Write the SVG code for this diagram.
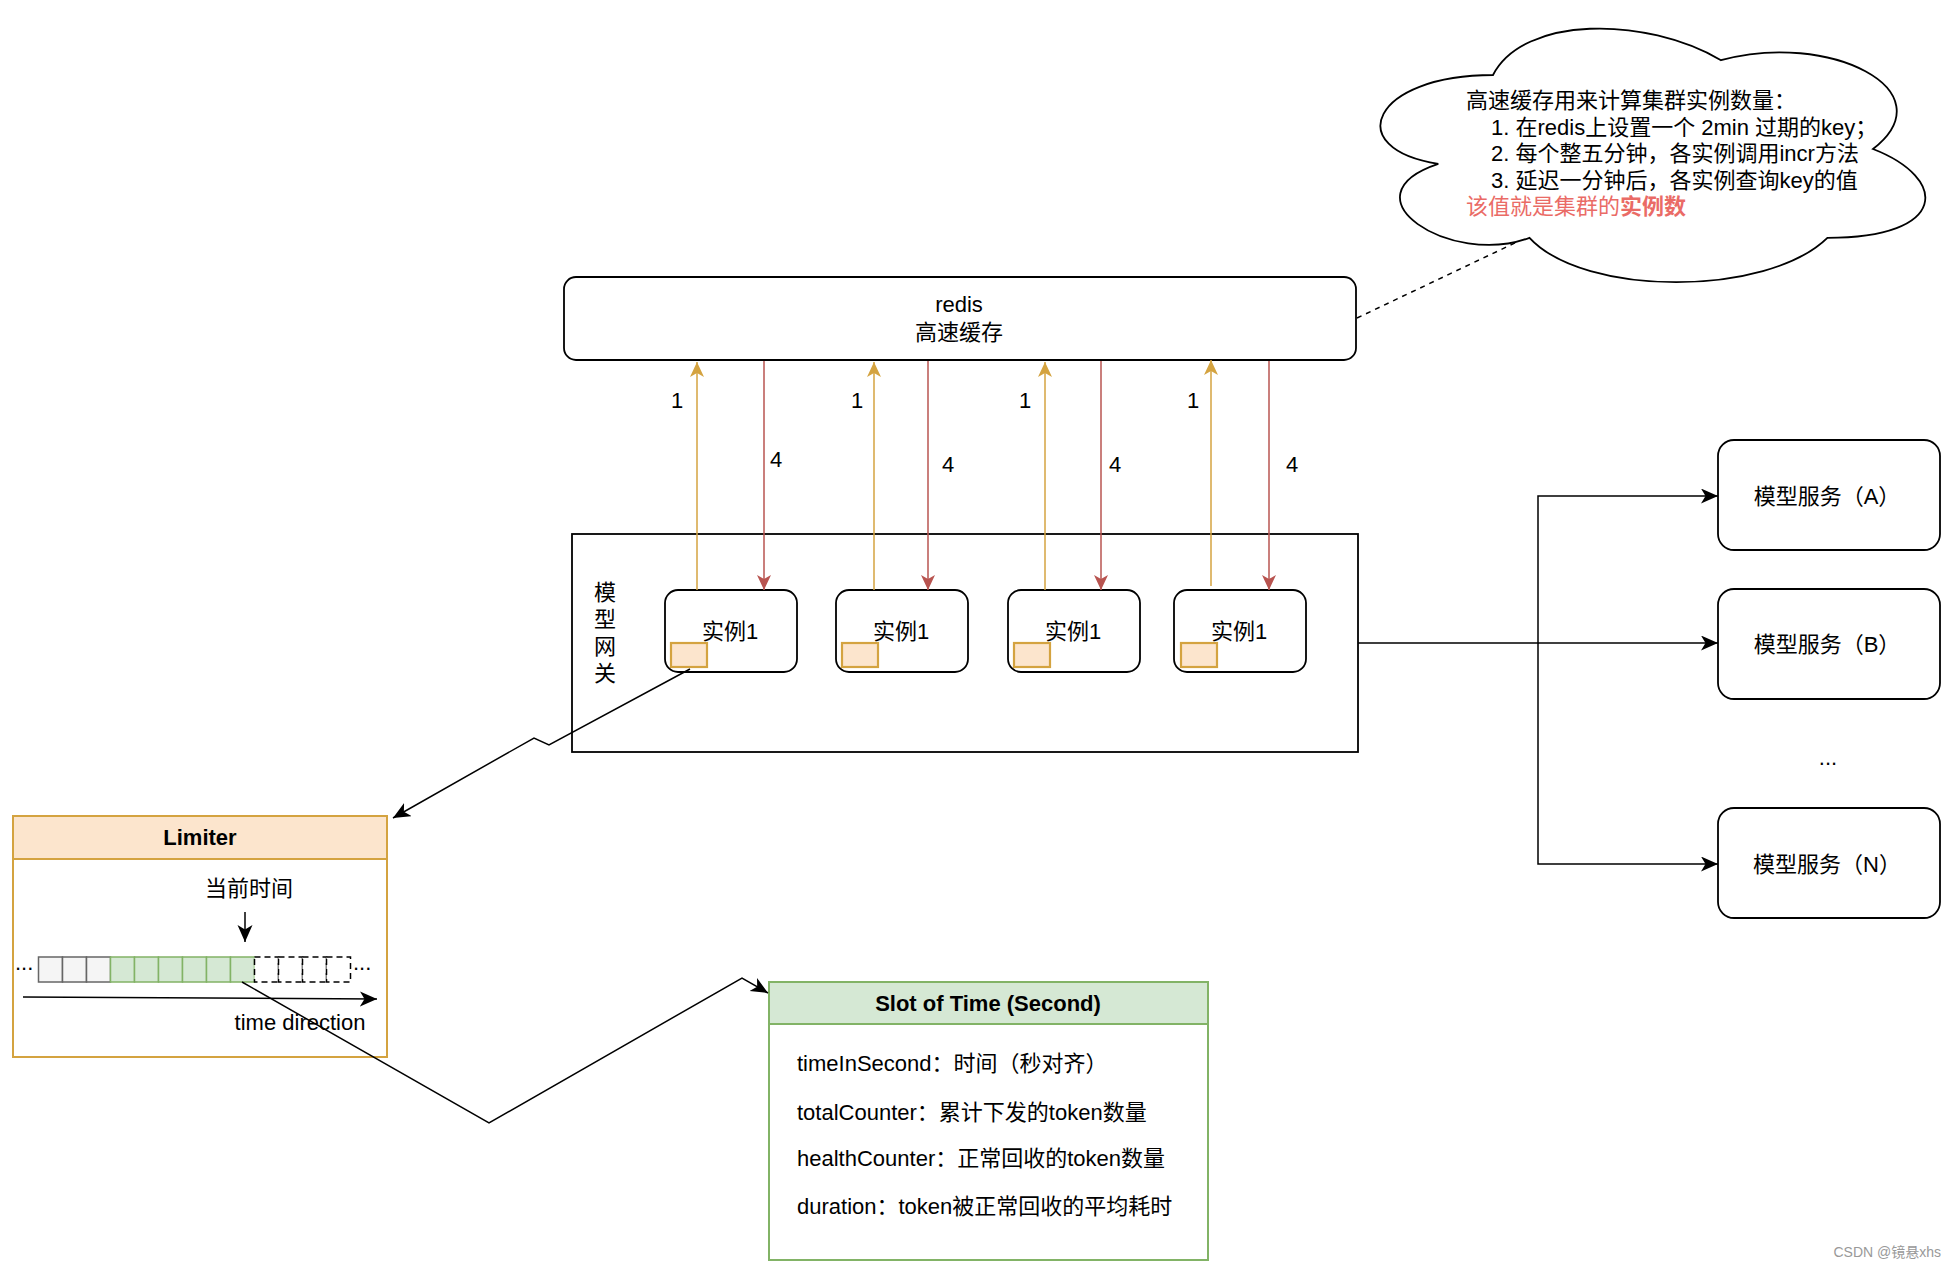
<svg xmlns="http://www.w3.org/2000/svg" width="1956" height="1270" viewBox="0 0 1956 1270">
<style>
text{font-family:"Liberation Sans","Noto Sans CJK SC",Arial,sans-serif;font-size:22px;fill:#000}
.c{text-anchor:middle}
.b{font-weight:bold}
.box{fill:#fff;stroke:#000;stroke-width:1.8}
.ln{fill:none;stroke:#000;stroke-width:1.5}
.or{fill:none;stroke:#d4a340;stroke-width:1.5}
.rd{fill:none;stroke:#b85450;stroke-width:1.5}
.sq{fill:#fce5cd;stroke:#d4a340;stroke-width:2.2}
.grey{fill:#f5f5f5;stroke:#666;stroke-width:1.5}
.green{fill:#d5e8d4;stroke:#82b366;stroke-width:1.5}
.dash{fill:#fff;stroke:#000;stroke-width:1.5;stroke-dasharray:6 4}
</style>
<defs>
<marker id="aBlack" markerUnits="userSpaceOnUse" markerWidth="18" markerHeight="16" refX="17" refY="7.5" orient="auto"><path d="M0,0 L17,7.5 L0,15 L4.5,7.5 Z" fill="#000"/></marker>
<marker id="aOr" markerUnits="userSpaceOnUse" markerWidth="16" markerHeight="15" refX="15" refY="7" orient="auto"><path d="M0,0 L15,7 L0,14 L4,7 Z" fill="#d4a340"/></marker>
<marker id="aRd" markerUnits="userSpaceOnUse" markerWidth="16" markerHeight="15" refX="15" refY="7" orient="auto"><path d="M0,0 L15,7 L0,14 L4,7 Z" fill="#b85450"/></marker>
</defs>
<rect width="1956" height="1270" fill="#fff"/>

<g id="cloud-note">
<path d="M1493,75 C1371.4,75 1341,149 1438.3,163.8 C1341,196.4 1450.4,267.4 1529.5,237.8 C1584.2,297 1766.6,297 1827.4,237.8 C1949,237.8 1949,178.6 1873,149 C1949,89.8 1827.4,30.6 1721,60.2 C1645,15.8 1523.4,15.8 1493,75 Z" fill="#fff" stroke="#000" stroke-width="1.8"/>
<text x="1466" y="108">高速缓存用来计算集群实例数量：</text>
<text x="1491" y="135">1. 在redis上设置一个 2min 过期的key；</text>
<text x="1491" y="161">2. 每个整五分钟，各实例调用incr方法</text>
<text x="1491" y="188">3. 延迟一分钟后，各实例查询key的值</text>
<text x="1466" y="214" style="fill:#ea6b66">该值就是集群的<tspan style="font-weight:bold;fill:#ea6b66">实例数</tspan></text>
</g>

<g id="redis">
<rect class="box" x="564" y="277" width="792" height="83" rx="12"/>
<text class="c" x="959" y="312">redis</text>
<text class="c" x="959" y="340">高速缓存</text>
</g>

<g id="gateway">
<rect class="box" x="572" y="534" width="786" height="218"/>
<text class="c" x="605" y="600">模</text>
<text class="c" x="605" y="627">型</text>
<text class="c" x="605" y="654">网</text>
<text class="c" x="605" y="681">关</text>
</g>

<g id="instance-1">
<rect class="box" x="665" y="590" width="132" height="82" rx="13"/>
<text class="c" x="730" y="639">实例1</text>
<rect class="sq" x="671" y="643" width="36" height="24"/>
</g>
<g id="instance-2">
<rect class="box" x="836" y="590" width="132" height="82" rx="13"/>
<text class="c" x="901" y="639">实例1</text>
<rect class="sq" x="842" y="643" width="36" height="24"/>
</g>
<g id="instance-3">
<rect class="box" x="1008" y="590" width="132" height="82" rx="13"/>
<text class="c" x="1073" y="639">实例1</text>
<rect class="sq" x="1014" y="643" width="36" height="24"/>
</g>
<g id="instance-4">
<rect class="box" x="1174" y="590" width="132" height="82" rx="13"/>
<text class="c" x="1239" y="639">实例1</text>
<rect class="sq" x="1181" y="643" width="36" height="24"/>
</g>

<g id="service-a">
<rect class="box" x="1718" y="440" width="222" height="110" rx="16"/>
<text class="c" x="1827" y="504">模型服务（A）</text>
</g>
<g id="service-b">
<rect class="box" x="1718" y="589" width="222" height="110" rx="16"/>
<text class="c" x="1827" y="652">模型服务（B）</text>
</g>
<g id="service-ellipsis">
<text class="c" x="1828" y="765">...</text>
</g>
<g id="service-n">
<rect class="box" x="1718" y="808" width="222" height="110" rx="16"/>
<text class="c" x="1827" y="872">模型服务（N）</text>
</g>

<g id="limiter">
<rect x="13" y="816" width="374" height="241" fill="#fff" stroke="#d4a340" stroke-width="2"/>
<rect x="13" y="816" width="374" height="43" fill="#fce5cd" stroke="#d4a340" stroke-width="2"/>
<text class="c b" x="200" y="845">Limiter</text>
<text class="c" x="249" y="896">当前时间</text>
<line class="ln" x1="245" y1="912" x2="245" y2="942" marker-end="url(#aBlack)"/>
<text x="15" y="970">...</text>
<rect class="grey" x="38.5" y="957" width="24" height="25"/>
<rect class="grey" x="62.5" y="957" width="24" height="25"/>
<rect class="grey" x="86.5" y="957" width="24" height="25"/>
<rect class="green" x="110.5" y="957" width="24" height="25"/>
<rect class="green" x="134.5" y="957" width="24" height="25"/>
<rect class="green" x="158.5" y="957" width="24" height="25"/>
<rect class="green" x="182.5" y="957" width="24" height="25"/>
<rect class="green" x="206.5" y="957" width="24" height="25"/>
<rect class="green" x="230.5" y="957" width="24" height="25"/>
<rect class="dash" x="254.5" y="957" width="24" height="25"/>
<rect class="dash" x="278.5" y="957" width="24" height="25"/>
<rect class="dash" x="302.5" y="957" width="24" height="25"/>
<rect class="dash" x="326.5" y="957" width="24" height="25"/>
<text x="353" y="970">...</text>
<line class="ln" x1="23" y1="997" x2="377" y2="999" marker-end="url(#aBlack)"/>
<text class="c" x="300" y="1030">time direction</text>
</g>

<g id="slot">
<rect x="769" y="982" width="439" height="278" fill="#fff" stroke="#82b366" stroke-width="2"/>
<rect x="769" y="982" width="439" height="42" fill="#d5e8d4" stroke="#82b366" stroke-width="2"/>
<text class="c b" x="988" y="1011">Slot of Time (Second)</text>
<text x="797" y="1071">timeInSecond：时间（秒对齐）</text>
<text x="797" y="1120">totalCounter：累计下发的token数量</text>
<text x="797" y="1166">healthCounter：正常回收的token数量</text>
<text x="797" y="1214">duration：token被正常回收的平均耗时</text>
</g>

<g id="connectors">
<line x1="1357" y1="318" x2="1519" y2="241" stroke="#000" stroke-width="1.5" stroke-dasharray="5 5"/>
<line class="or" x1="697" y1="590" x2="697" y2="362" marker-end="url(#aOr)"/>
<line class="or" x1="874" y1="590" x2="874" y2="362" marker-end="url(#aOr)"/>
<line class="or" x1="1045" y1="590" x2="1045" y2="362" marker-end="url(#aOr)"/>
<line class="or" x1="1211" y1="586" x2="1211" y2="360" marker-end="url(#aOr)"/>
<line class="rd" x1="764" y1="361" x2="764" y2="590" marker-end="url(#aRd)"/>
<line class="rd" x1="928" y1="361" x2="928" y2="590" marker-end="url(#aRd)"/>
<line class="rd" x1="1101" y1="361" x2="1101" y2="590" marker-end="url(#aRd)"/>
<line class="rd" x1="1269" y1="361" x2="1269" y2="590" marker-end="url(#aRd)"/>
<text class="c" x="677" y="408">1</text>
<text class="c" x="857" y="408">1</text>
<text class="c" x="1025" y="408">1</text>
<text class="c" x="1193" y="408">1</text>
<text class="c" x="776" y="467">4</text>
<text class="c" x="948" y="472">4</text>
<text class="c" x="1115" y="472">4</text>
<text class="c" x="1292" y="472">4</text>
<path class="ln" d="M1358,643 H1538 V496 H1718" marker-end="url(#aBlack)"/>
<path class="ln" d="M1538,643 H1718" marker-end="url(#aBlack)"/>
<path class="ln" d="M1538,643 V864 H1718" marker-end="url(#aBlack)"/>
<path class="ln" d="M690,669 L549,745 L534,738 L393,818" marker-end="url(#aBlack)"/>
<path class="ln" d="M242,982 L489,1123 L742,978 L768,993" marker-end="url(#aBlack)"/>
</g>

<text x="1941" y="1257" style="font-size:14px;fill:#999;text-anchor:end">CSDN @镜悬xhs</text>
</svg>
